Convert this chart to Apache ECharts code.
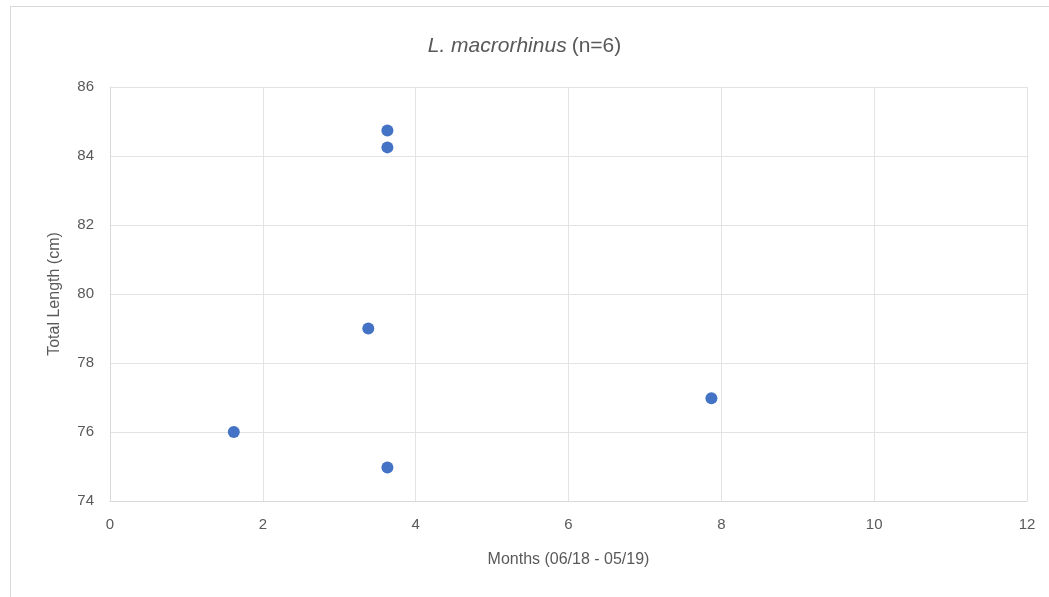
<!DOCTYPE html>
<html>
<head>
<meta charset="utf-8">
<script src="https://cdn.jsdelivr.net/npm/echarts@6/dist/echarts.min.js"></script>
<style>
  html, body { margin: 0; padding: 0; background: #fff; }
  #frame {
    position: absolute; left: 10px; top: 6px; width: 1050px; height: 600px;
    border-left: 1px solid #d9d9d9; border-top: 1px solid #d9d9d9;
  }
  #main { position: absolute; left: 0; top: 0; width: 1049px; height: 597px; }
</style>
</head>
<body>
<div id="frame"></div>
<div id="main"></div>
<script>
// months since 06/18 and total length (cm)
const months = [1.62, 3.38, 3.63, 3.63, 3.63, 7.87];
const lengths = [76.0, 79.0, 84.74, 84.25, 74.97, 76.98];

const points = months.map((m, i) => [m, lengths[i]]);

const chart = echarts.init(document.getElementById("main"));
const textColor = "#595959";
const font = "Liberation Sans";

chart.setOption({
  backgroundColor: "transparent",
  animation: false,
  title: {
    text: "{i|L. macrorhinus} {n|(n=6)}",
    left: "center",
    top: 31,
    textStyle: {
      fontWeight: "normal",
      rich: {
        i: { fontStyle: "italic", fontWeight: "normal", fontSize: 21, color: textColor, fontFamily: font },
        n: { fontWeight: "normal", fontSize: 21, color: textColor, fontFamily: font }
      }
    }
  },
  grid: { left: 110, right: 22, top: 87, bottom: 96 },
  xAxis: {
    type: "value",
    min: 0, max: 12, interval: 2,
    name: "Months (06/18 - 05/19)",
    nameLocation: "middle",
    nameGap: 51,
    nameTextStyle: { color: textColor, fontSize: 16, fontFamily: font },
    axisLine: { show: true, lineStyle: { color: "#d9d9d9" } },
    axisTick: { show: false },
    axisLabel: { color: textColor, fontSize: 15, fontFamily: font, margin: 16 },
    splitLine: { show: true, lineStyle: { color: "#e3e3e3" } }
  },
  yAxis: {
    type: "value",
    min: 74, max: 86, interval: 2,
    name: "Total Length (cm)",
    nameLocation: "middle",
    nameGap: 47,
    nameRotate: 90,
    nameTextStyle: { color: textColor, fontSize: 16, fontFamily: font },
    axisLine: { show: true, lineStyle: { color: "#d9d9d9" } },
    axisTick: { show: false },
    axisLabel: { color: textColor, fontSize: 15, fontFamily: font, margin: 16 },
    splitLine: { show: true, lineStyle: { color: "#e3e3e3" } }
  },
  series: [{
    type: "scatter",
    data: points,
    symbol: "circle",
    symbolSize: 12,
    itemStyle: { color: "#4472C4", opacity: 1 }
  }]
});
</script>
</body>
</html>
